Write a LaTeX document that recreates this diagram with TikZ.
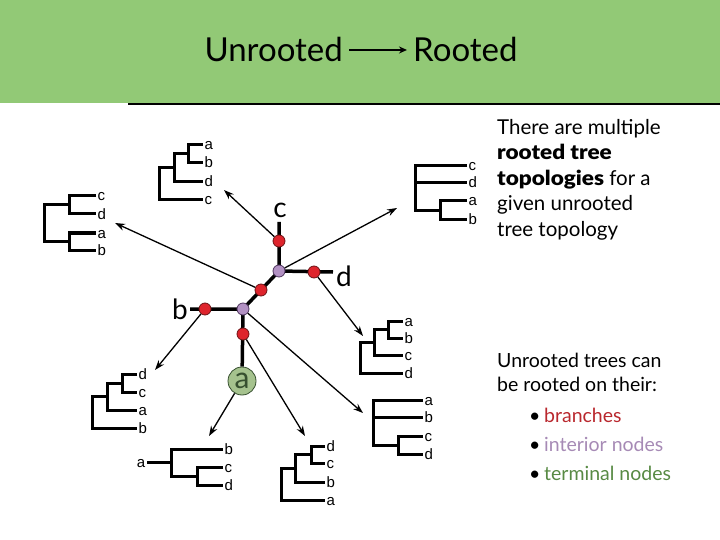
\documentclass[tikz,border=0pt]{standalone}
\usepackage{fontspec}
\setmainfont{Lato}
\newfontfamily\helv{Liberation Sans}
\newfontfamily\blk[FakeStretch=1.1]{Lato Black}
\usetikzlibrary{arrows.meta,positioning,backgrounds}

\definecolor{band}{RGB}{146,201,118}
\definecolor{brred}{RGB}{222,36,44}
\definecolor{brdark}{RGB}{110,20,22}
\definecolor{inpurple}{RGB}{178,145,195}
\definecolor{indark}{RGB}{80,55,95}
\definecolor{tgreen}{RGB}{165,194,142}
\definecolor{tdark}{RGB}{55,80,48}
\definecolor{brtxt}{RGB}{185,40,46}
\definecolor{intxt}{RGB}{166,138,181}
\definecolor{tetxt}{RGB}{88,138,68}

\tikzset{
    tree/.style={line width=3pt},
    edge/.style={line width=3.5pt},
    arr/.style={line width=1.3pt, -{Stealth[length=10pt,width=7pt]}},
    lab/.style={font=\helv\fontsize{15}{18}\selectfont, inner sep=0.5pt, anchor=base west},
    big/.style={font=\fontsize{28}{30}\selectfont, inner sep=0pt},
    title/.style={font=\fontsize{33}{40}\selectfont, inner sep=0pt},
    txt/.style={font=\fontsize{20.5}{24}\selectfont, inner sep=0pt, anchor=base west},
    txtb/.style={txt, font=\fontsize{19.5}{24}\selectfont},
    brnode/.style={circle, fill=brred, draw=brdark, line width=0.8pt, minimum size=12pt, inner sep=0pt},
    inod/.style={circle, fill=inpurple, draw=indark, line width=0.8pt, minimum size=12pt, inner sep=0pt},
    term/.style={circle, fill=tgreen, draw=tdark, line width=0.8pt, minimum size=28pt, inner sep=0pt,
        text=tdark, font=\fontsize{30}{30}\selectfont}
}

\begin{document}
\begin{tikzpicture}[x=1pt,y=-1pt]
    \useasboundingbox (0,0) rectangle (720,540);

    % header
    \fill[band] (0,0) rectangle (720,103);
    \draw[line width=2.5pt] (128,104) -- (720,104);
    \node[title, anchor=base east] (un) at (343,62) {Unrooted};
    \node[title, anchor=base west] (ro) at (413,62) {Rooted};
    \draw[line width=1.6pt, -{Stealth[length=8pt,width=7pt]}, shorten <=6pt, shorten >=6pt] (un) -- (ro);

    % unrooted tree
    \node[inod] (p1) at (279,271) {};
    \node[inod] (p2) at (243,309) {};
    \node[brnode] (rc) at (279,241) {};
    \node[brnode] (rd) at (314,272) {};
    \node[brnode] (rm) at (261,290) {};
    \node[brnode] (rb) at (205,309) {};
    \node[brnode] (ra) at (243,334) {};
    \node[term] (ta) at (242,381) {a};
    \node[big, anchor=base] (lc) at (280,218) {c};
    \node[big, anchor=base west] (ld) at (336,286) {d};
    \node[big, anchor=base east] (lb) at (188,319) {b};
    \coordinate (ec) at (279,222);
    \coordinate (ed) at (333,272);
    \coordinate (eb) at (190,309);
    \begin{scope}[on background layer]
        \draw[edge] (ec) -- (p1.center) -- (ed);
        \draw[edge] (p1.center) -- (p2.center) -- (eb);
        \draw[edge] (p2.center) -- (ta);
    \end{scope}

    % rooted trees
    \draw[tree] (203,145) -| (188,163) -- (203,163);
    \draw[tree] (188,154) -| (174,182) -- (203,182);
    \draw[tree] (174,168) -| (159,200) -- (203,200);
    \foreach \t/\y [count=\i] in {a/145,b/163,d/182,c/200}
        \node[lab] (A\i) at (204,\y+5) {\t};

    \draw[tree] (96,196) -| (69,214) -- (96,214);
    \draw[tree] (96,233) -| (69,250) -- (96,250);
    \draw[tree] (69,205) -| (44,241.5) -- (69,241.5);
    \foreach \t/\y [count=\i] in {c/196,d/214,a/233,b/250}
        \node[lab] (B\i) at (97,\y+5) {\t};

    \draw[tree] (467,166) -| (415,210.5) -- (440,210.5);
    \draw[tree] (415,183) -- (467,183);
    \draw[tree] (467,201) -| (440,220) -- (467,220);
    \foreach \t/\y [count=\i] in {c/166,d/183,a/201,b/220}
        \node[lab] (C\i) at (468,\y+5) {\t};

    \draw[tree] (137,374) -| (122,392) -- (137,392);
    \draw[tree] (122,383) -| (107,410) -- (137,410);
    \draw[tree] (107,396.5) -| (92,428) -- (137,428);
    \foreach \t/\y [count=\i] in {d/374,c/392,a/410,b/428}
        \node[lab] (D\i) at (138,\y+5) {\t};

    \draw[tree] (223,449) -| (171,476) -- (197,476);
    \draw[tree] (223,467) -| (197,485) -- (223,485);
    \draw[tree] (147,462.5) -- (171,462.5);
    \node[lab, anchor=base east] (E0) at (146,467.5) {a};
    \foreach \t/\y [count=\i] in {b/449,c/467,d/485}
        \node[lab] (E\i) at (224,\y+5) {\t};

    \draw[tree] (325,446) -| (311,463) -- (325,463);
    \draw[tree] (311,454.5) -| (295,482) -- (325,482);
    \draw[tree] (295,468) -| (281,500) -- (325,500);
    \foreach \t/\y [count=\i] in {d/446,c/463,b/482,a/500}
        \node[lab] (F\i) at (326,\y+5) {\t};

    \draw[tree] (403,321) -| (388,338) -- (403,338);
    \draw[tree] (388,329.5) -| (374,355) -- (403,355);
    \draw[tree] (374,342) -| (360,373) -- (403,373);
    \foreach \t/\y [count=\i] in {a/321,b/338,c/355,d/373}
        \node[lab] (G\i) at (404,\y+5) {\t};

    \draw[tree] (423,400) -| (373,445) -- (398,445);
    \draw[tree] (373,417) -- (423,417);
    \draw[tree] (423,436) -| (398,454) -- (423,454);
    \foreach \t/\y [count=\i] in {a/400,b/417,c/436,d/454}
        \node[lab] (H\i) at (424,\y+5) {\t};

    % arrows to the rootings
    \coordinate (tA) at (224,190);
    \coordinate (tB) at (115,223);
    \coordinate (tC) at (397,208);
    \coordinate (tD) at (155,370);
    \coordinate (tE) at (209,436);
    \coordinate (tF) at (305,436);
    \coordinate (tG) at (363,336);
    \coordinate (tH) at (363,413);
    \draw[arr] (rc) -- (tA);
    \draw[arr] (rm) -- (tB);
    \draw[arr] (p1) -- (tC);
    \draw[arr] (rb) -- (tD);
    \draw[arr] (ta) -- (tE);
    \draw[arr] (ra) -- (tF);
    \draw[arr] (rd) -- (tG);
    \draw[arr] (p2) -- (tH);

    % notes
    \node[txt] (n1) at (497,135) {There are multiple};
    \node[txt] (n2) at (497,160) {\blk rooted tree};
    \node[txt] (n3) at (497,185.5) {{\blk topologies} for a};
    \node[txt] (n4) at (497,211) {given unrooted};
    \node[txt] (n5) at (497,236.5) {tree topology};
    \node[txtb] (m1) at (497,367) {Unrooted trees can};
    \node[txtb] (m2) at (497,391) {be rooted on their:};
    \node[txtb] (k1) at (529,422) {\makebox[15pt][l]{\textbullet}\textcolor{brtxt}{branches}};
    \node[txtb] (k2) at (529,451) {\makebox[15pt][l]{\textbullet}\textcolor{intxt}{interior nodes}};
    \node[txtb] (k3) at (529,480) {\makebox[15pt][l]{\textbullet}\textcolor{tetxt}{terminal nodes}};
\end{tikzpicture}
\end{document}
